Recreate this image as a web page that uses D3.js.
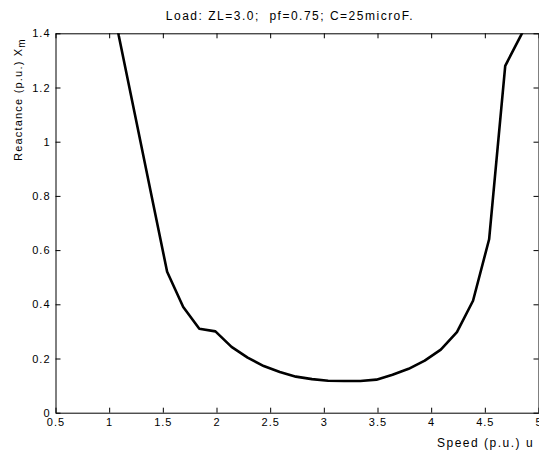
<!DOCTYPE html>
<html>
<head>
<meta charset="utf-8">
<script src="https://cdn.jsdelivr.net/npm/d3@7"></script>
<style>
  body { margin: 0; background: #fff; }
  text { font-family: "Liberation Sans", Arial, sans-serif; fill: #000; white-space: pre; }
</style>
</head>
<body>
<div id="chart"></div>
<script>
// 数据：转速与电抗
let speed = [0.94, 1.09, 1.24, 1.39, 1.54, 1.69, 1.84, 1.99, 2.14, 2.29, 2.44, 2.59, 2.74, 2.89,
    3.04, 3.19, 3.34, 3.49, 3.64, 3.79, 3.94, 4.09, 4.24, 4.39, 4.54, 4.69, 4.84, 4.99];
let reactance = [1.72, 1.39, 1.10, 0.81, 0.52, 0.39, 0.31, 0.30, 0.243, 0.203, 0.172, 0.150, 0.133, 0.124,
    0.118, 0.117, 0.117, 0.122, 0.140, 0.162, 0.192, 0.233, 0.297, 0.413, 0.640, 1.280, 1.395, 1.52];
let xTicks = [0.5, 1, 1.5, 2, 2.5, 3, 3.5, 4, 4.5, 5];
let yTicks = [0, 0.2, 0.4, 0.6, 0.8, 1, 1.2, 1.4];
let titleText = 'Load: ZL=3.0;  pf=0.75; C=25microF.';

let width = 539, height = 453;
let plotLeft = 55.5, plotRight = 538.5, plotTop = 33.3, plotBottom = 412.7;

let svg = d3.select('#chart').append('svg')
    .attr('width', width)
    .attr('height', height);

let x = d3.scaleLinear().domain([0.5, 5]).range([plotLeft, plotRight]);
let y = d3.scaleLinear().domain([0, 1.4]).range([plotBottom, plotTop]);

//裁剪区域
svg.append('clipPath').attr('id', 'plotClip')
    .append('rect')
    .attr('x', plotLeft).attr('y', plotTop)
    .attr('width', plotRight - plotLeft).attr('height', plotBottom - plotTop);

//曲线
let line = d3.line()
    .x(function (d, i) { return x(speed[i]) })
    .y(function (d) { return y(d) });
svg.append('path')
    .datum(reactance)
    .attr('clip-path', 'url(#plotClip)')
    .attr('d', line)
    .attr('fill', 'none')
    .attr('stroke', '#000')
    .attr('stroke-width', 2.6)
    .attr('stroke-linejoin', 'round');

//坐标轴（刻度朝内）
let fmt = function (d) { return String(d) };
let styleAxis = function (g) {
    g.selectAll('path').attr('stroke', '#000');
    g.selectAll('line').attr('stroke', '#000');
    g.selectAll('text')
        .style('font-size', '11px')
        .style('letter-spacing', '1px')
        .attr('fill', '#000');
};
svg.append('g')
    .attr('transform', 'translate(0,' + plotBottom + ')')
    .call(d3.axisBottom(x).tickValues(xTicks).tickFormat(fmt).tickSize(-5).tickSizeOuter(0).tickPadding(6))
    .call(styleAxis);
svg.append('g')
    .attr('transform', 'translate(0,' + plotTop + ')')
    .call(d3.axisTop(x).tickValues(xTicks).tickFormat('').tickSize(-5).tickSizeOuter(0))
    .call(styleAxis);
svg.append('g')
    .attr('transform', 'translate(' + plotLeft + ',0)')
    .call(d3.axisLeft(y).tickValues(yTicks).tickFormat(fmt).tickSize(-5).tickSizeOuter(0).tickPadding(5))
    .call(styleAxis);
svg.append('g')
    .attr('transform', 'translate(' + plotRight + ',0)')
    .call(d3.axisRight(y).tickValues(yTicks).tickFormat('').tickSize(-5).tickSizeOuter(0))
    .call(styleAxis);

//标题
svg.append('text')
    .attr('x', 290)
    .attr('y', 20)
    .attr('text-anchor', 'middle')
    .style('font-size', '12px')
    .style('letter-spacing', '1.5px')
    .text(titleText);

//x轴标题
svg.append('text')
    .attr('x', 437)
    .attr('y', 447)
    .style('font-size', '12px')
    .style('letter-spacing', '1.5px')
    .text('Speed (p.u.) u');

//y轴标题，带下标
let yLabel = svg.append('text')
    .attr('transform', 'translate(22,161) rotate(-90)')
    .style('font-size', '11px')
    .style('letter-spacing', '1.2px');
yLabel.append('tspan').text('Reactance (p.u.) X');
yLabel.append('tspan').attr('dy', 3).style('font-size', '10px').text('m');
</script>
</body>
</html>
